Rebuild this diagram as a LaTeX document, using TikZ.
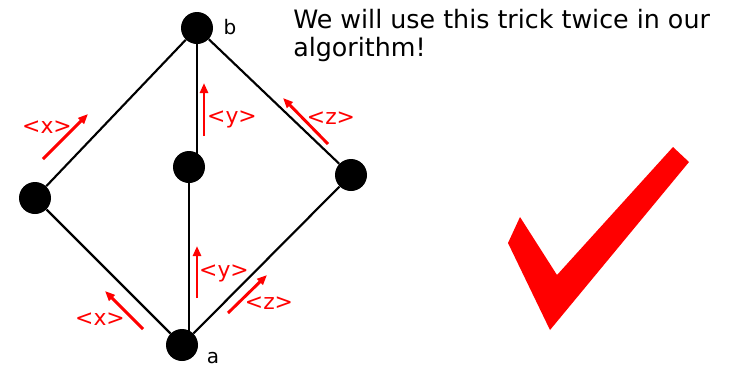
\documentclass[tikz,border=0pt]{standalone}
\usepackage{fontspec}
\setmainfont{DejaVu Sans}
\usetikzlibrary{arrows.meta}
\begin{document}
\begin{tikzpicture}[x=0.75pt,y=-0.75pt,font=\fontsize{15pt}{18pt}\selectfont,
  vertex/.style={circle,fill=ink,inner sep=0pt,minimum size=24pt},
  edge/.style={draw=ink,line width=1.6pt},
  flow/.style={draw=tickred,line width=2.2pt,-{Triangle[length=7.5pt,width=6pt]}},
  flowlabel/.style={text=tickred,inner sep=0pt,font=\fontsize{16.4pt}{19pt}\selectfont}]
\definecolor{ink}{HTML}{000000}\definecolor{tickred}{HTML}{FF0000}
\useasboundingbox (0,0) rectangle (740,369);
% the lattice
\node[vertex] (b) at (197,28) {};
\node[vertex] (l) at (35,198) {};
\node[vertex] (m) at (189,167) {};
\node[vertex] (r) at (351,175) {};
\node[vertex] (a) at (182,345) {};
\node (lb) at (230,27) {b};
\node (la) at (213,358) {a};
\draw[edge] (b) -- (l);
\draw[edge] (b.center) -- (b |- m);
\draw[edge] (b) -- (r);
\draw[edge] (l) -- (a);
\draw[edge] (m.center) -- (m |- a);
\draw[edge] (r) -- (a);
% upper arrows
\coordinate (xus) at (43,159); \coordinate (xue) at (88,114);
\coordinate (yus) at (204,136); \coordinate (yue) at (204,83);
\coordinate (zus) at (328,144); \coordinate (zue) at (283,98);
\draw[flow] (xus) -- (xue);
\draw[flow] (yus) -- (yue);
\draw[flow] (zus) -- (zue);
\node[flowlabel] (xu) at (47,127) {<x>};
\node[flowlabel] (yu) at (232,119) {<y>};
\node[flowlabel] (zu) at (331,118) {<z>};
% lower arrows
\coordinate (xls) at (143,329); \coordinate (xle) at (105,291);
\coordinate (yls) at (197,298); \coordinate (yle) at (197,246);
\coordinate (zls) at (228,313); \coordinate (zle) at (267,275);
\draw[flow] (xls) -- (xle);
\draw[flow] (yls) -- (yle);
\draw[flow] (zls) -- (zle);
\node[flowlabel] (xl) at (100,319) {<x>};
\node[flowlabel] (yl) at (224,273) {<y>};
\node[flowlabel] (zl) at (269,303) {<z>};
% remark and tick
\node[anchor=base west,align=left,inner sep=0pt,font=\fontsize{19pt}{20.3pt}\selectfont] (note) at (293,56) {We will use this trick twice in our\\algorithm!};
\fill[tickred] (673,147) -- (689,162) -- (550,330) -- (508,243) -- (520,217) -- (557,275) -- cycle;
\end{tikzpicture}
\end{document}
